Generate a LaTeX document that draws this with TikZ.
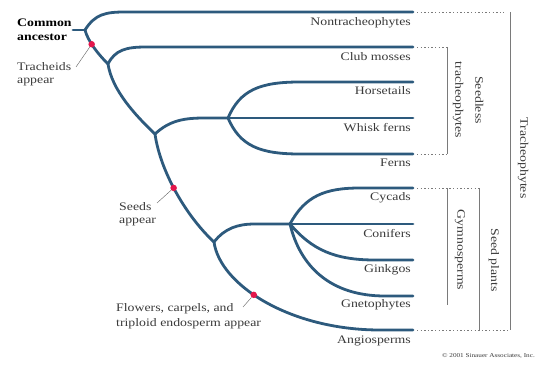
\documentclass[tikz,border=0pt]{standalone}
\usepackage{fontspec}
\setmainfont{Liberation Serif}[FakeStretch=1.2]
\definecolor{branch}{HTML}{2D5A7D}
\definecolor{dotred}{HTML}{E3174C}
\definecolor{txt}{HTML}{3A3A3A}
\definecolor{brk}{HTML}{7A7A7A}
\tikzset{
  br/.style={draw=branch, line width=2.8pt, line cap=round},
  evdot/.style={circle, fill=dotred, inner sep=0pt, minimum size=6.5pt},
  lbl/.style={inner sep=0pt, text=txt, font=\fontsize{11.5}{13.5}\selectfont},
  leaf/.style={lbl, anchor=east},
  vlbl/.style={lbl, rotate=-90, align=center},
  leader/.style={draw=txt!80, line width=0.4pt},
  bracket/.style={draw=brk, line width=0.6pt},
  dots/.style={draw=brk, line width=0.6pt, dash pattern=on 1.4pt off 2.2pt},
}
\begin{document}
\begin{tikzpicture}[x=1pt, y=-1pt]
\useasboundingbox (0,0) rectangle (545,366);
% internal nodes of the tree
\coordinate (r0) at (73,30);
\coordinate (n1) at (85,30);
\coordinate (n2) at (108,64);
\coordinate (n3) at (155,134);
\coordinate (n4) at (228,118);
\coordinate (n5) at (214,242);
\coordinate (n6) at (290,224);
% leaf ends
\coordinate (lNon) at (413,12);
\coordinate (lClub) at (413,47);
\coordinate (lHor) at (413,82);
\coordinate (lWhi) at (413,118);
\coordinate (lFer) at (413,154);
\coordinate (lCyc) at (413,188);
\coordinate (lCon) at (413,224);
\coordinate (lGin) at (413,260);
\coordinate (lGne) at (413,296);
\coordinate (lAng) at (413,330);
% branches
\draw[br] (r0) -- (n1);
\draw[br] (n1) .. controls (95,14) and (106,12) .. (125,12) -- (lNon);
\draw[br] (n1) .. controls (88,41) and (97,53) .. coordinate[pos=0.42] (d1) (n2);
\draw[br] (n2) .. controls (115,50) and (126,47) .. (146,47) -- (lClub);
\draw[br] (n2) .. controls (112,90) and (135,115) .. (n3);
\draw[br] (n3) .. controls (170,120) and (185,118) .. (205,118) -- (n4);
\draw[br] (n4) .. controls (240,90) and (260,82) .. (300,82) -- (lHor);
\draw[br] (n4) -- (lWhi);
\draw[br] (n4) .. controls (240,146) and (260,154) .. (300,154) -- (lFer);
\draw[br] (n3) .. controls (160,170) and (185,215) .. coordinate[pos=0.47] (d2) (n5);
\draw[br] (n5) .. controls (225,228) and (238,224) .. (255,224) -- (n6);
\draw[br] (n6) .. controls (305,196) and (325,188) .. (360,188) -- (lCyc);
\draw[br] (n6) -- (lCon);
\draw[br] (n6) .. controls (312,250) and (335,260) .. (375,260) -- (lGin);
\draw[br] (n6) .. controls (300,266) and (330,296) .. (385,296) -- (lGne);
\draw[br] (n5) .. controls (220,285) and (290,330) .. coordinate[pos=0.43] (d3) (380,330) -- (lAng);
% event dots
\node[evdot] (e1) at (d1) {};
\node[evdot] (e2) at (d2) {};
\node[evdot] (e3) at (d3) {};
% leaf labels
\node[leaf] (tNon) at (411,23) {Nontracheophytes};
\node[leaf] (tClub) at (411,57) {Club mosses};
\node[leaf] (tHor) at (411,91) {Horsetails};
\node[leaf] (tWhi) at (411,128) {Whisk ferns};
\node[leaf] (tFer) at (411,163) {Ferns};
\node[leaf] (tCyc) at (411,198) {Cycads};
\node[leaf] (tCon) at (411,234) {Conifers};
\node[leaf] (tGin) at (411,270) {Ginkgos};
\node[leaf] (tGne) at (411,305) {Gnetophytes};
\node[leaf] (tAng) at (411,341) {Angiosperms};
% event labels
\node[lbl, anchor=west, align=left, text=black, font=\fontsize{11.5}{13.5}\selectfont\bfseries] (tRoot) at (17,30) {Common\\ancestor};
\node[lbl, anchor=west, align=left] (tTra) at (17,74) {Tracheids\\appear};
\node[lbl, anchor=west, align=left] (tSee) at (119,214) {Seeds\\appear};
\node[lbl, anchor=west, align=left, font=\fontsize{11.5}{15}\selectfont] (tFlo) at (116,316) {Flowers, carpels, and\\triploid endosperm appear};
\draw[leader] (76,67) -- (e1);
\draw[leader] (157,203) -- (e2);
\draw[leader] (243,307) -- (e3);
% brackets
\coordinate (bTt) at (510,12);
\coordinate (bTb) at (510,330);
\draw[dots] (lNon) ++(4,0) -- (504,12);
\draw[bracket] (bTt) -- (bTb);
\draw[dots] (lAng) ++(4,0) -- (bTb);
\coordinate (bSt) at (447,47);
\coordinate (bSb) at (447,154);
\draw[dots] (lClub) ++(4,0) -- (bSt);
\draw[bracket] (bSt) -- (bSb);
\draw[dots] (lFer) ++(4,0) -- (bSb);
\coordinate (bGt) at (447,188);
\coordinate (bGb) at (447,305);
\draw[bracket] (bGt) -- (bGb);
\coordinate (bPt) at (479,188);
\coordinate (bPb) at (479,330);
\draw[dots] (lCyc) ++(4,0) -- (bPt);
\draw[bracket] (bPt) -- (bPb);
% bracket labels
\node[vlbl, font=\fontsize{11.5}{20}\selectfont] (tSeedless) at (468,100) {Seedless\\tracheophytes};
\node[vlbl] (tGym) at (460,250) {Gymnosperms};
\node[vlbl] (tSeed) at (494,260) {Seed plants};
\node[vlbl] (tTrach) at (523,158) {Tracheophytes};
% credit
\node[lbl, anchor=east, font=\fontsize{6}{7}\selectfont] (credit) at (535,356) {\textcopyright\ 2001 Sinauer Associates, Inc.};
\end{tikzpicture}
\end{document}
